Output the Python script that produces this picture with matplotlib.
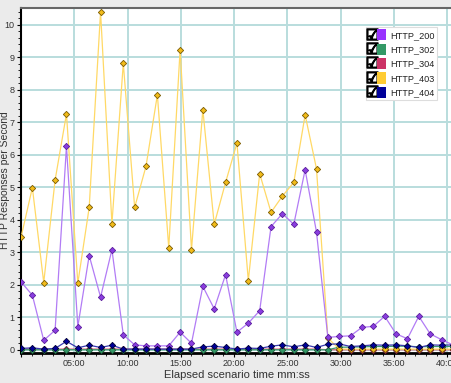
"""
    HTTP responses per second over the elapsed scenario time
"""

import numpy as np
import matplotlib.pyplot as plt
from matplotlib.lines import Line2D
from matplotlib.patches import Patch
from matplotlib.legend_handler import HandlerTuple
from matplotlib.ticker import MultipleLocator, FuncFormatter

# one sample every 64 seconds
step_s = 64
n_samples = 39
times_min = np.arange(n_samples) * step_s / 60.0

http_200 = [2.09, 1.68, 0.29, 0.60, 6.26, 0.71, 2.90, 1.62, 3.08, 0.46,
            0.15, 0.12, 0.12, 0.12, 0.54, 0.20, 1.95, 1.26, 2.31, 0.54,
            0.82, 1.20, 3.79, 4.19, 3.86, 5.54, 3.62, 0.38, 0.41, 0.43,
            0.69, 0.72, 1.03, 0.49, 0.34, 1.03, 0.49, 0.31, 0.15]
http_302 = [0.0] * 28 + [0.08, 0.08, 0.09, 0.10, 0.10, 0.11, 0.11, 0.09,
                         0.10, 0.10, 0.10]
http_304 = [0.02] * 27 + [0.0] * 12
http_403 = [3.46, 4.99, 2.07, 5.22, 7.26, 2.05, 4.38, 10.40, 3.88, 8.82,
            4.38, 5.65, 7.85, 3.14, 9.24, 3.08, 7.39, 3.86, 5.15, 6.36,
            2.13, 5.42, 4.23, 4.73, 5.15, 7.23, 5.57, 0.36, 0.02, 0.02,
            0.02, 0.02, 0.02, 0.02, 0.02, 0.02, 0.02, 0.02, 0.02]
http_404 = [0.04, 0.06, 0.02, 0.04, 0.26, 0.06, 0.14, 0.07, 0.14, 0.02,
            0.02, 0.02, 0.02, 0.02, 0.02, 0.02, 0.09, 0.11, 0.07, 0.02,
            0.05, 0.04, 0.11, 0.15, 0.09, 0.15, 0.07, 0.17, 0.18, 0.10,
            0.12, 0.15, 0.14, 0.15, 0.12, 0.07, 0.15, 0.14, 0.15]

series = [
    # name, values, legend colour, line colour, marker colour, marker edge
    ('HTTP_200', http_200, '#9933ff', '#b27cf5', '#8a3ee0', '#5a1c9c'),
    ('HTTP_302', http_302, '#339966', '#3a9a6a', '#339966', '#1c5c3c'),
    ('HTTP_304', http_304, '#cc3366', '#e0607f', '#cc3366', '#7a1f3d'),
    ('HTTP_403', http_403, '#ffcc33', '#ffd966', '#f2bc1a', '#7a5a00'),
    ('HTTP_404', http_404, '#000099', '#3a3ab0', '#000099', '#000033'),
]
draw_order = ['HTTP_304', 'HTTP_302', 'HTTP_403', 'HTTP_200', 'HTTP_404']

plt.rcParams['font.family'] = ['Liberation Sans Narrow', 'Liberation Sans', 'DejaVu Sans']

fig = plt.figure(figsize=(4.52, 3.83), dpi=100, facecolor='#ebebeb')
ax = fig.add_axes([21 / 452, 1 - 353 / 383, 431 / 452, 345 / 383])
ax.set_facecolor('white')

by_name = {s[0]: s for s in series}
for name in draw_order:
    _, vals, _, lc, mc, me = by_name[name]
    ax.plot(times_min, vals, color=lc, lw=0.9, marker='D', ms=3.2,
            mfc=mc, mec=me, mew=0.6, zorder=3)

ax.set_xlim(0, 40.45)
ax.set_ylim(-0.1, 10.52)
ax.xaxis.set_major_locator(MultipleLocator(5))
ax.xaxis.set_minor_locator(MultipleLocator(1))
ax.yaxis.set_major_locator(MultipleLocator(1))
ax.yaxis.set_minor_locator(MultipleLocator(0.2))
ax.xaxis.set_major_formatter(FuncFormatter(lambda v, p: '' if v == 0 else '%02d:00' % v))
ax.grid(True, which='major', color='#b9dddd', lw=1.4, zorder=0)

ax.spines['right'].set_visible(False)
ax.spines['top'].set_color('#666666')
ax.spines['top'].set_linewidth(1.5)
ax.spines['left'].set_color('black')
ax.spines['left'].set_linewidth(1.5)
ax.spines['bottom'].set_color('black')
ax.spines['bottom'].set_linewidth(2.0)

ax.tick_params(axis='both', which='major', labelsize=6.5, length=3, width=0.8,
               colors='black', labelcolor='#333333', pad=1.5)
ax.tick_params(axis='both', which='minor', length=2, width=0.6, colors='black')

ax.set_xlabel('Elapsed scenario time mm:ss', fontsize=8, color='#333333', labelpad=1)
ax.set_ylabel('HTTP Responses per Second', fontsize=7.5, color='#333333')
ax.yaxis.set_label_coords(-0.026, 0.5)

# legend: checkbox + colour square + name
handles = []
for name, _, col, _, _, _ in series:
    box = Line2D([], [], ls='', marker='$\u2611$', color='black', ms=8)
    sq = Patch(facecolor=col, edgecolor='none')
    handles.append((box, sq))
leg = ax.legend(handles, [s[0] for s in series],
                handler_map={tuple: HandlerTuple(ndivide=None, pad=0.15)},
                loc='upper left', bbox_to_anchor=(0.800, 0.945),
                fontsize=6.6, frameon=True, fancybox=False, framealpha=1,
                edgecolor='#dddddd', handlelength=1.9, handleheight=1.5,
                handletextpad=0.5, labelspacing=0.35, borderpad=0.25,
                borderaxespad=0)
leg.get_frame().set_linewidth(0.8)
for t in leg.get_texts():
    t.set_color('#222222')

plt.savefig('out.png', dpi=100, facecolor=fig.get_facecolor())
